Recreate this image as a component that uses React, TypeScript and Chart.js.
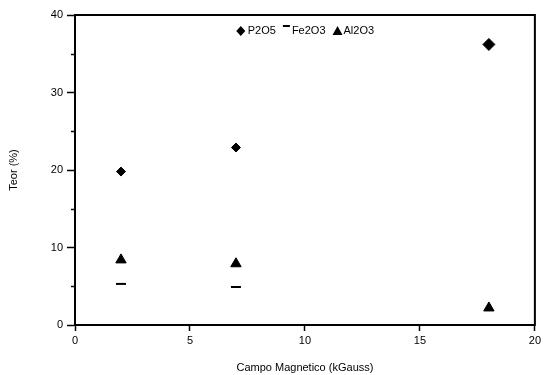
import React, { useEffect, useRef } from "react";
import { Chart, registerables } from "chart.js";

Chart.register(...registerables);

const xTitle = "Campo Magnetico (kGauss)";
const yTitle = "Teor (%)";
const seriesNames = ["P2O5", "Fe2O3", "Al2O3"];
const p2o5X = [2, 7, 18];
const p2o5Y = [19.8, 22.9, 36.2];
const fe2o3X = [2, 7];
const fe2o3Y = [5.3, 4.9];
const al2o3X = [2, 7, 18];
const al2o3Y = [8.4, 7.9, 2.2];

const framePlugin = {
  id: "frame",
  afterDraw(chart: any) {
    const { ctx, chartArea } = chart;
    const y = chart.scales.y;
    ctx.save();
    ctx.strokeStyle = "#000";
    ctx.lineWidth = 2;
    ctx.strokeRect(chartArea.left, chartArea.top, chartArea.right - chartArea.left, chartArea.bottom - chartArea.top);
    ctx.lineWidth = 1.5;
    for (let v = 5; v < 40; v += 10) {
      const py = Math.round(y.getPixelForValue(v)) + 0.5;
      ctx.beginPath();
      ctx.moveTo(chartArea.left - 4, py);
      ctx.lineTo(chartArea.left, py);
      ctx.stroke();
    }
    // legend inside the plot area
    ctx.font = '11px Arial, "Liberation Sans", sans-serif';
    ctx.fillStyle = "#000";
    ctx.textBaseline = "middle";
    const markerW = [10, 8, 10];
    const gapAfterMarker = [2, 1, 1];
    const gapItem = 7;
    let total = 0;
    seriesNames.forEach((n, i) => {
      total += markerW[i] + gapAfterMarker[i] + ctx.measureText(n).width;
      if (i < seriesNames.length - 1) total += gapItem;
    });
    let x = (chartArea.left + chartArea.right) / 2 - total / 2;
    const cy = chartArea.top + 16;
    seriesNames.forEach((n, i) => {
      const mx = x + markerW[i] / 2;
      ctx.beginPath();
      if (i === 0) {
        ctx.moveTo(mx, cy - 5);
        ctx.lineTo(mx + 4.5, cy);
        ctx.lineTo(mx, cy + 5);
        ctx.lineTo(mx - 4.5, cy);
        ctx.closePath();
        ctx.fill();
      } else if (i === 1) {
        ctx.fillRect(x, cy - 6, markerW[i] - 1, 2);
      } else {
        ctx.moveTo(mx, cy - 5);
        ctx.lineTo(mx + 5, cy + 4);
        ctx.lineTo(mx - 5, cy + 4);
        ctx.closePath();
        ctx.fill();
      }
      x += markerW[i] + gapAfterMarker[i];
      ctx.fillText(n, x, cy);
      x += ctx.measureText(n).width + gapItem;
    });
    ctx.restore();
  },
};

export default function App() {
  const ref = useRef<HTMLCanvasElement>(null);
  useEffect(() => {
    document.body.style.margin = "0";
    Chart.defaults.font.family = 'Arial, "Liberation Sans", sans-serif';
    Chart.defaults.color = "#000";
    const chart = new Chart(ref.current!, {
      type: "scatter",
      data: {
        datasets: [
          {
            label: seriesNames[0],
            data: p2o5X.map((x, i) => ({ x, y: p2o5Y[i] })),
            pointStyle: "rectRot",
            pointRadius: [4.5, 4.5, 6],
            backgroundColor: "#000",
            borderColor: "#000",
          },
          {
            label: seriesNames[1],
            data: fe2o3X.map((x, i) => ({ x, y: fe2o3Y[i] })),
            pointStyle: "line",
            pointRadius: 5,
            borderWidth: 2,
            backgroundColor: "#000",
            borderColor: "#000",
          },
          {
            label: seriesNames[2],
            data: al2o3X.map((x, i) => ({ x, y: al2o3Y[i] })),
            pointStyle: "triangle",
            pointRadius: 6,
            backgroundColor: "#000",
            borderColor: "#000",
          },
        ],
      },
      options: {
        animation: false,
        responsive: false,
        layout: { padding: { left: 0, right: 4, top: 15, bottom: 0 } },
        plugins: {
          tooltip: { enabled: false },
          legend: { display: false },
        },
        scales: {
          x: {
            type: "linear",
            min: 0,
            max: 20,
            afterFit: (s: any) => { s.height = 50; },
            ticks: { stepSize: 5, font: { size: 11 }, color: "#000", padding: 3 },
            grid: { drawOnChartArea: false, tickLength: 6, tickColor: "#000", tickWidth: 1.5 },
            border: { color: "#000", width: 2 },
            title: { display: true, text: xTitle, font: { size: 11 }, color: "#000", padding: { top: 12, bottom: 0 } },
          },
          y: {
            type: "linear",
            min: 0,
            max: 40,
            afterFit: (s: any) => { s.width = 75; },
            ticks: { stepSize: 10, font: { size: 11 }, color: "#000", padding: 4 },
            grid: { drawOnChartArea: false, tickLength: 8, tickColor: "#000", tickWidth: 1.5 },
            border: { color: "#000", width: 2 },
            title: { display: true, text: yTitle, font: { size: 11 }, color: "#000", padding: { top: 7, bottom: 0 } },
          },
        },
      },
      plugins: [framePlugin],
    });
    return () => chart.destroy();
  }, []);
  return (
    <div style={{ position: "absolute", left: 0, top: 0, width: 544, height: 375 }}>
      <canvas ref={ref} width={544} height={375} style={{ width: 544, height: 375 }} />
    </div>
  );
}
